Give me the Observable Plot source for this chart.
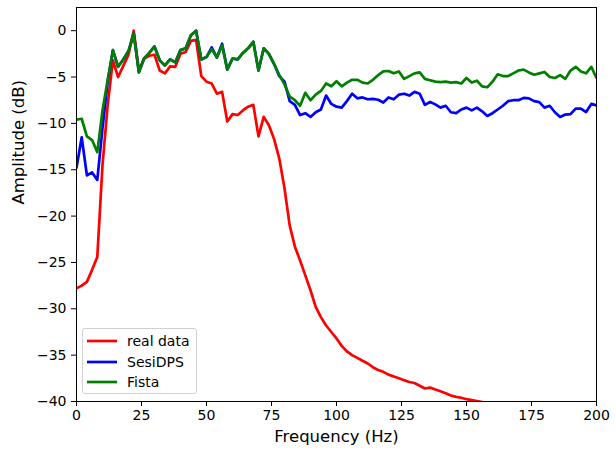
<!DOCTYPE html>
<html>
<head>
<meta charset="utf-8">
<script src="https://cdn.jsdelivr.net/npm/d3@7"></script>
<script src="https://cdn.jsdelivr.net/npm/@observablehq/plot@0.6"></script>
<style>
  html, body { margin: 0; padding: 0; background: #fff; }
  #wrap { position: relative; width: 616px; height: 452px; font-family: "DejaVu Sans", sans-serif; }
  #legend { position: absolute; left: 82px; top: 328px; width: 115px; height: 66px; box-sizing: border-box;
            border: 1px solid #d0d0d0; border-radius: 3px; background: rgba(255,255,255,0.85); }
  .row { position: absolute; left: 4px; height: 20px; display: flex; align-items: center; font-size: 14px; color: #000; }
  .row svg { margin-right: 10px; }
</style>
</head>
<body>
<div id="wrap"></div>
<script>
// Frequency grid (Hz)
const freq = [0,2,4,6,8,10,12,14,16,18,20,22,24,26,28,30,32,34,36,38,40,42,44,46,48,50,52,54,56,58,60,62,64,66,68,70,72,74,76,78,80,82,84,86,88,90,92,94,96,98,100,102,104,106,108,110,112,114,116,118,120,122,124,126,128,130,132,134,136,138,140,142,144,146,148,150,152,154,156,158,160,162,164,166,168,170,172,174,176,178,180,182,184,186,188,190,192,194,196,198,200];

// real data (dB), visible up to ~158 Hz
const realData = [-27.8,-27.5,-27.1,-25.8,-24.4,-14.5,-8.0,-3.2,-5.0,-3.8,-2.6,0.0,-4.3,-3.0,-2.7,-2.6,-4.3,-4.6,-3.85,-3.9,-2.5,-2.3,-1.1,-1.0,-4.9,-5.5,-5.7,-6.8,-6.6,-9.8,-9.0,-9.1,-8.6,-8.2,-8.0,-11.4,-9.3,-10.2,-11.7,-13.8,-17.0,-21.0,-23.3,-24.8,-26.4,-28.0,-29.8,-30.9,-31.8,-32.5,-33.2,-34.0,-34.6,-35.0,-35.3,-35.6,-35.9,-36.3,-36.6,-36.8,-37.1,-37.3,-37.5,-37.7,-37.9,-38.0,-38.3,-38.6,-38.5,-38.7,-38.9,-39.1,-39.35,-39.5,-39.6,-39.75,-39.85,-39.95,-40.05,-40.2];

// SesiDPS (dB)
const sesiDPS = [-14.8,-11.5,-15.6,-15.3,-16.1,-10.5,-5.5,-2.1,-3.9,-3.1,-2.2,-0.3,-4.5,-3.0,-2.4,-1.7,-3.2,-3.75,-3.1,-3.4,-2.1,-1.9,-0.5,0.0,-3.1,-2.85,-1.8,-2.9,-1.4,-4.2,-3.0,-3.1,-2.4,-1.9,-1.2,-4.3,-1.9,-2.5,-3.6,-4.9,-5.5,-7.6,-8.0,-9.1,-8.9,-9.3,-8.8,-8.5,-7.0,-7.9,-8.2,-8.3,-7.6,-6.8,-7.3,-7.2,-7.4,-7.35,-7.45,-7.75,-7.2,-7.4,-6.9,-6.8,-7.0,-6.6,-6.8,-8.0,-7.7,-7.95,-8.3,-8.1,-8.8,-8.9,-8.5,-8.3,-8.6,-8.3,-8.7,-9.2,-8.9,-8.5,-8.1,-7.6,-7.5,-7.5,-7.25,-7.3,-7.6,-7.7,-8.3,-8.1,-8.8,-9.3,-9.05,-9.0,-8.4,-8.4,-8.78,-7.9,-8.06];

// Fista (dB)
const fista = [-9.6,-9.5,-11.4,-11.8,-13.1,-8.6,-5.3,-2.1,-3.9,-3.1,-2.2,-0.3,-4.5,-3.0,-2.4,-1.7,-3.2,-3.75,-3.1,-3.4,-2.1,-1.9,-0.5,0.0,-3.1,-2.85,-2.0,-2.9,-1.6,-4.2,-3.0,-3.1,-2.4,-1.9,-1.2,-4.3,-1.9,-2.5,-3.6,-4.8,-5.8,-7.1,-7.5,-8.1,-6.7,-7.5,-6.9,-6.5,-5.7,-6.0,-5.45,-6.0,-5.6,-5.3,-5.3,-5.6,-5.7,-5.3,-4.8,-4.4,-4.35,-4.6,-4.4,-5.2,-4.9,-4.6,-4.5,-5.2,-5.35,-5.5,-5.55,-5.5,-5.6,-5.55,-5.7,-5.1,-5.6,-5.4,-6.0,-6.1,-5.5,-4.7,-4.9,-4.9,-4.6,-4.3,-4.2,-4.5,-4.75,-4.6,-4.45,-5.0,-5.1,-4.8,-5.2,-4.3,-3.9,-4.4,-4.6,-3.9,-5.1];

const xTicks = [0, 25, 50, 75, 100, 125, 150, 175, 200];
const yTicks = [0, -5, -10, -15, -20, -25, -30, -35, -40];

const seriesNames = ["real data", "SesiDPS", "Fista"];
const seriesColors = ["#ff0000", "#0000ff", "#008000"];
const seriesValues = [realData, sesiDPS, fista];

const rows = seriesValues.map((vals, s) => vals.map((v, i) => ({f: freq[i], db: v, s})));

const chart = Plot.plot({
  width: 616,
  height: 452,
  marginLeft: 76,
  marginRight: 20,
  marginTop: 7,
  marginBottom: 51,
  style: {fontFamily: "DejaVu Sans", fontSize: "14px", background: "white", color: "black"},
  x: {domain: [0, 200]},
  y: {domain: [-40, 2.5]},
  marks: [
    ...rows.map((r, s) => Plot.line(r, {x: "f", y: "db", stroke: seriesColors[s], strokeWidth: 2.7, clip: true})),
    Plot.frame({stroke: "black", strokeWidth: 1}),
    Plot.axisX({ticks: xTicks, tickSize: 5, tickPadding: 4, label: null, fontSize: 14}),
    Plot.axisY({ticks: yTicks, tickSize: 5, tickPadding: 5, label: null, fontSize: 14}),
    Plot.text(["Frequency (Hz)"], {frameAnchor: "bottom", dy: 40, fontSize: 16.5}),
    Plot.text(["Amplitude (dB)"], {frameAnchor: "left", dx: -58, rotate: -90, fontSize: 16.5})
  ]
});

const wrap = document.getElementById("wrap");
wrap.appendChild(chart);

const legend = document.createElement("div");
legend.id = "legend";
seriesNames.forEach((name, i) => {
  const row = document.createElement("div");
  row.className = "row";
  row.style.top = (2 + i * 20.5) + "px";
  row.innerHTML = `<svg width="30" height="6"><line x1="0" y1="3" x2="30" y2="3" stroke="${seriesColors[i]}" stroke-width="2.7"/></svg><span>${name}</span>`;
  legend.appendChild(row);
});
wrap.appendChild(legend);
</script>
</body>
</html>
